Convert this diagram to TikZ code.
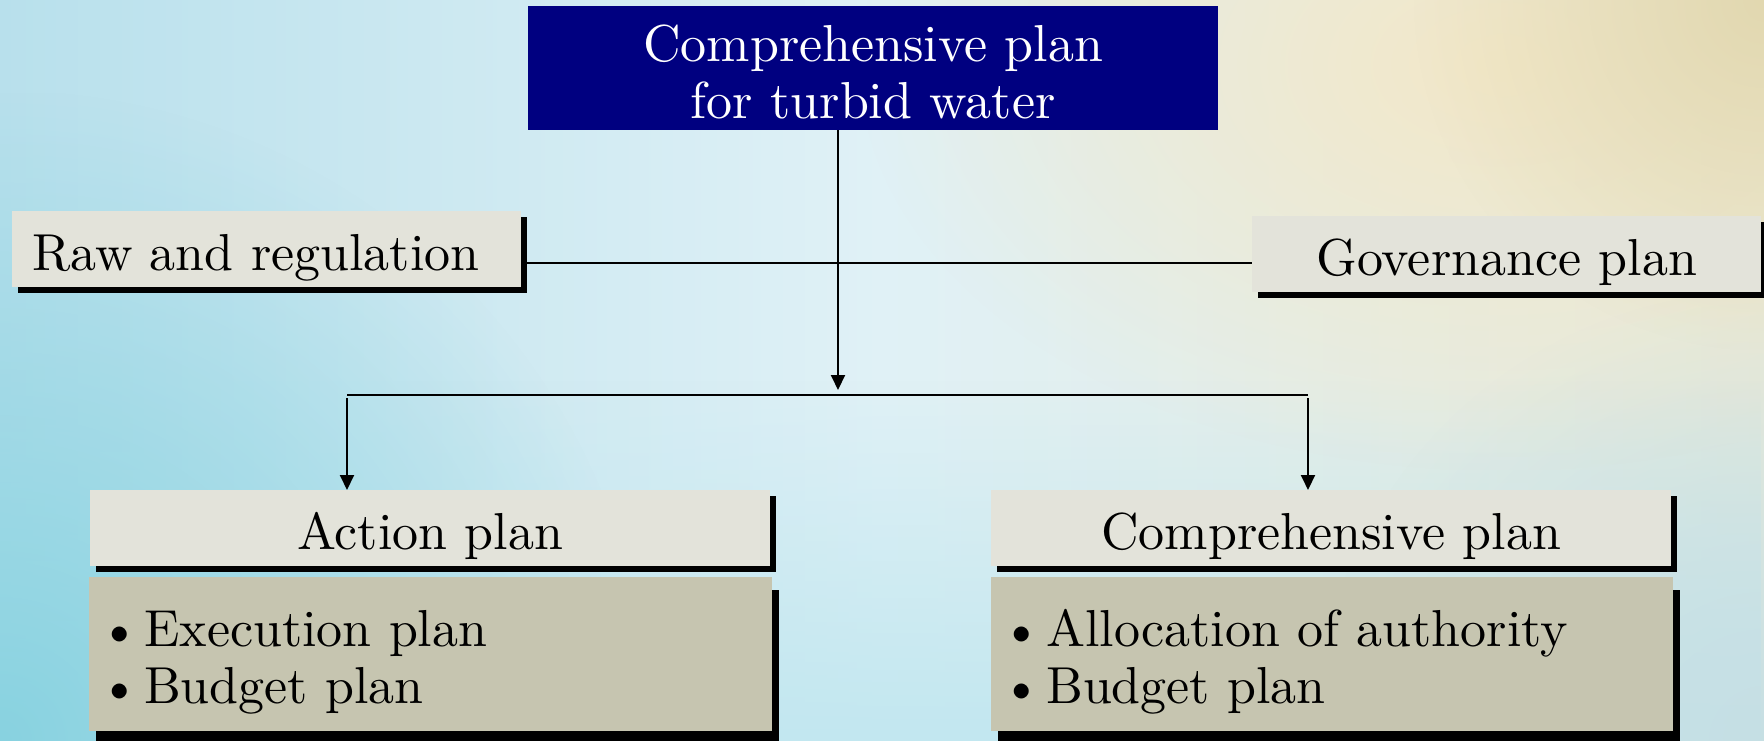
\documentclass[tikz,border=0pt]{standalone}
\usepackage{fontspec}
\setmainfont{lmroman10-regular}[Extension=.otf]
\usetikzlibrary{fadings,shadows,arrows.meta,calc}
\definecolor{navybox}{HTML}{000080}
\definecolor{headfill}{HTML}{E3E3DA}
\definecolor{bodyfill}{HTML}{C6C5B0}
\definecolor{bgL}{HTML}{B8E0EC}
\definecolor{bgM}{HTML}{E0F1F6}
\definecolor{bgR}{HTML}{E8EADA}
\definecolor{bottomband}{HTML}{C2E7F0}
\definecolor{warmglow}{HTML}{F3E8C9}
\definecolor{warmcorner}{HTML}{E2D8B0}
\definecolor{cyanglow}{HTML}{88D2E0}
\definecolor{blueglow}{HTML}{C6DFE4}
\tikzfading[name=softglow, inner color=transparent!0, outer color=transparent!100]
\tikzfading[name=upfade, top color=transparent!100, bottom color=transparent!0]
\newcommand{\bulletitem}[1]{\makebox[45pt][l]{\textbullet}#1}
\begin{document}
\begin{tikzpicture}[x=1pt,y=-1pt,
  boxfont/.style={font=\fontsize{52}{57}\selectfont},
  headbox/.style={boxfont, fill=headfill, inner ysep=0pt, text height=59pt, text depth=17pt,
    minimum height=76pt, anchor=north west,
    general shadow={fill=black, shadow xshift=6pt, shadow yshift=-6pt}},
  bodybox/.style={boxfont, fill=bodyfill, inner ysep=0pt, inner xsep=10pt, text height=69pt, text depth=85pt,
    minimum height=154pt, anchor=north west, align=left,
    general shadow={fill=black, shadow xshift=7pt, shadow yshift=-13pt}},
  topbox/.style={boxfont, fill=navybox, text=white, inner sep=0pt, text width=690pt, align=center,
    text height=55pt, text depth=69pt, minimum height=124pt, anchor=north west},
  conn/.style={line width=2pt, draw=black},
  arr/.style={-{Triangle[length=15pt,width=14pt]}},
]
\useasboundingbox (0,0) rectangle (1764,741);
% background
\begin{scope}
  \clip (0,0) rectangle (1764,741);
  \shade[left color=bgL, right color=bgR, middle color=bgM] (0,0) rectangle (1764,741);
  \fill[bottomband, path fading=upfade] (0,380) rectangle (1764,741);
  \fill[cyanglow, path fading=softglow] (-650,91) rectangle (650,1391);
  \fill[warmglow, path fading=softglow] (860,-340) rectangle (2140,470);
  \fill[warmcorner, path fading=softglow] (1414,-350) rectangle (2114,350);
  \fill[blueglow, path fading=softglow] (1314,291) rectangle (2214,1191);
\end{scope}

\node[topbox] (top) at (528,6) {Comprehensive plan\\for turbid water};

\node[headbox, text width=469pt, inner xsep=20pt, align=left] (raw) at (12,211) {Raw and regulation};
\node[headbox, minimum width=509pt, inner xsep=0pt] (gov) at (1252,216) {Governance plan};

\node[headbox, minimum width=680pt, inner xsep=0pt] (act) at (90,490) {Action plan};
\node[headbox, minimum width=680pt, inner xsep=0pt] (comp) at (991,490) {Comprehensive plan};

\node[bodybox, text width=663pt] (actbody) at (89,577)
  {\bulletitem{Execution plan}\\\bulletitem{Budget plan}};
\node[bodybox, text width=662pt] (compbody) at (991,577)
  {\bulletitem{Allocation of authority}\\\bulletitem{Budget plan}};

% connectors
\coordinate (hj) at (838,263);
\coordinate (bj) at (838,395);
\coordinate (bl) at (347,395);
\coordinate (br) at (1308,395);
\draw[conn] (raw.east |- hj) -- (gov.west |- hj);
\draw[conn, arr, shorten >=5pt] (top.south -| bj) -- (bj);
\draw[conn] (bl) -- (br);
\draw[conn, arr] ($(bl)+(0,3)$) -- (bl |- act.north);
\draw[conn, arr] ($(br)+(0,3)$) -- (br |- comp.north);
\end{tikzpicture}
\end{document}
